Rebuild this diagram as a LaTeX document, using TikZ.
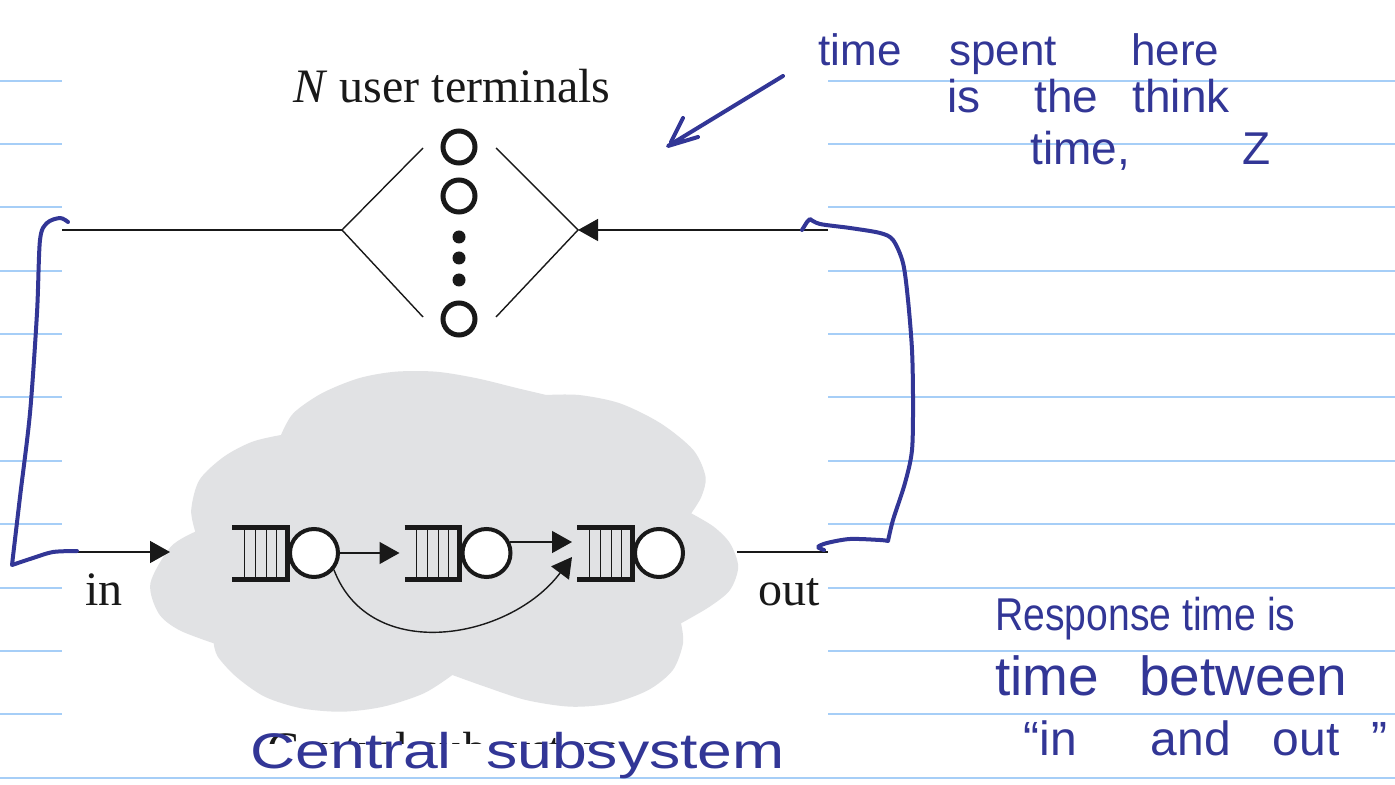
\documentclass[tikz,border=0pt]{standalone}
\usepackage{fontspec}
\setmainfont{Liberation Serif}
\newfontfamily\handfont{Liberation Sans}
\usepackage{graphicx}
\usetikzlibrary{arrows.meta}

\definecolor{ruleblue}{RGB}{166,206,247}
\definecolor{ink}{RGB}{50,54,150}
\definecolor{cloudgray}{RGB}{225,226,228}
\definecolor{printink}{RGB}{25,25,25}
\newcommand\fsz[1]{\fontsize{#1}{#1}\selectfont}

\tikzset{
  rule/.style={ruleblue, line width=1pt},
  wire/.style={printink, line width=0.7pt},
  flow/.style={wire, -{Triangle[length=10pt,width=11pt]}},
  terminal/.style={circle, draw=printink, line width=2.5pt, minimum size=16pt, inner sep=0pt, fill=white},
  ellipsisdot/.style={circle, fill=printink, minimum size=6.5pt, inner sep=0pt},
  server/.style={circle, draw=printink, fill=white, line width=2pt, minimum size=24pt, inner sep=0pt},
  bufbar/.style={printink, line width=2.5pt, line join=miter},
  slot/.style={printink, line width=0.5pt},
  printlabel/.style={text=printink, font=\fsz{24pt}, inner sep=0pt},
  pen/.style={ink, line width=2pt, line cap=round, line join=round},
  note/.style={text=ink, anchor=base west, inner sep=0pt},
  queue/.pic={
    \coordinate (-in) at (0,0);
    \draw[bufbar] (0,-25.5) -- (55,-25.5) -- (55,26) -- (0,26);
    \foreach \sx in {12,23,34,44} \draw[slot] (\sx,-25.5) -- (\sx,26);
    \node[server] (-srv) at (82,0) {};
  }
}

\begin{document}
\begin{tikzpicture}[x=0.5pt, y=-0.5pt]
\useasboundingbox (0,0) rectangle (1395,785);
\fill[white] (0,0) rectangle (1395,785);

% ruled notebook paper
\foreach \ry in {80.7,144,207.5,271,334,397.5,461,524,587.5,651,714} {
  \draw[rule] (0,\ry) -- (62,\ry);
  \draw[rule] (828,\ry) -- (1395,\ry);
}
\draw[rule] (0,777.5) -- (1395,777.5);

% central subsystem cloud
\fill[cloudgray]
  plot[smooth] coordinates {(195.3,531.7) (191.2,510) (199.4,480) (223.9,456.7) (252.4,441.7) (281,435)}
  -- plot[smooth] coordinates {(281,435) (293.3,413.3) (321.8,393.3) (358.6,378.3) (395.3,371.7) (436.1,371.7) (476.9,378.3) (517.8,388.3) (546.3,395)}
  -- plot[smooth] coordinates {(546.3,395) (579,395) (619.8,403.3) (660.6,423.3) (693.3,450) (705.5,476.7) (701.4,496.7) (691.2,513.3)}
  -- plot[smooth] coordinates {(691.2,513.3) (713.7,526.7) (730,543.3) (738.2,566.7) (730,590) (709.6,606.7) (681,623.3)}
  -- plot[smooth] coordinates {(681,623.3) (683,643.3) (672.9,670) (648.4,690) (611.6,703.3) (570.8,706.7) (525.9,700) (485.1,686.7) (452.4,675)}
  -- plot[smooth] coordinates {(452.4,675) (423.9,693.3) (383.1,706.7) (342.2,711.7) (301.4,708.3) (264.7,696.7) (236.1,676.7) (217.8,656.7) (213.7,643.3)}
  -- plot[smooth] coordinates {(213.7,643.3) (179,630) (158.6,613.3) (150.4,583.3) (170.8,546.7) (195.3,531.7)}
  -- cycle;

% terminals
\node[printlabel, anchor=base] (title) at (452,103) {\textit{N} user terminals};
\node[terminal] (t1) at (459,147) {};
\node[terminal] (t2) at (459,196) {};
\node[ellipsisdot] (d1) at (459,237) {};
\node[ellipsisdot] (d2) at (459,258) {};
\node[ellipsisdot] (d3) at (459,280) {};
\node[terminal] (tn) at (459,319) {};

\coordinate (fork) at (342,230);
\coordinate (merge) at (578,230);
\coordinate (fanUL) at (423,148);
\coordinate (fanLL) at (423,317);
\coordinate (fanUR) at (496,148);
\coordinate (fanLR) at (496,317);
\coordinate (loopL) at (62,230);
\coordinate (loopR) at (828,230);
\draw[wire] (loopL) -- (fork);
\draw[wire] (fanUL) -- (fork) -- (fanLL);
\draw[wire] (fanUR) -- (merge) -- (fanLR);
\draw[flow] (loopR) -- (merge);

% entry and exit of the subsystem
\coordinate (inL) at (62,552);
\coordinate (inTip) at (170,552);
\coordinate (outL) at (737,552);
\coordinate (outR) at (828,552);
\draw[flow] (inL) -- (inTip);
\draw[wire] (outL) -- (outR);
\node[printlabel, anchor=base west] (inlab) at (85,605) {in};
\node[printlabel, anchor=base west] (outlab) at (758,605) {out};

% queues
\pic (q1) at (232,553) {queue};
\pic (q2) at (404.5,553) {queue};
\pic (q3) at (577,553) {queue};
\draw[flow, shorten >=2.5pt] (q1-srv.east) -- (q2-in);
\draw[flow, shorten >=2.5pt] (q2-srv.25) -- (q2-srv.25 -| q3-in);
\draw[flow] (q1-srv.-40) .. controls +(36,95) and +(-62,83) .. ([xshift=-2.5pt,yshift=-2pt]q3-in);

% subsystem caption, cut off at the lower edge of the figure
\begin{scope}
  \clip (62,700) rectangle (828,743);
  \node[printlabel, anchor=base west] (sublab) at (267,765) {Central subsystem};
\end{scope}

% handwritten notes
\node[note, font=\handfont\fsz{22pt}] (n1) at (818,66) {time\hspace{24pt}spent\hspace{37pt}here};
\node[note, font=\handfont\fsz{23pt}] (n2) at (947,113) {is\hspace{27pt}the\hspace{17pt}think};
\node[note, font=\handfont\fsz{23pt}] (n3) at (1030,165) {time,\hspace{56pt}Z};
\node[note, font=\handfont\fsz{23pt}] (n4) at (995,630) {\scalebox{0.85}[1]{Response time is}};
\node[note, font=\handfont\fsz{27.5pt}] (n5) at (995,695) {time\hspace{20pt}between};
\node[note, font=\handfont\fsz{24pt}] (n6) at (1023,755) {“in\hspace{37pt}and\hspace{21pt}out\hspace{16pt}”};
\node[note, font=\handfont\fsz{25pt}] (n7) at (250,768) {\scalebox{1.25}[1]{Central\hspace{13.7pt}subsystem}};

% handwritten arrow and brackets
\draw[pen] (783,76) -- (668,146) -- (698,137);
\draw[pen] (683,118) -- (671,142);
\draw[pen] plot[smooth] coordinates {(68,222) (60,218) (47,223) (40,240) (37,313) (30,413) (20,497) (12,565)}
  -- plot[smooth] coordinates {(12,565) (33,558) (53,552) (77,551)};
\draw[pen] (802,230) -- (807,222)
  -- plot[smooth] coordinates {(810,219) (820,224) (850,228) (880,233) (893,240) (903,263) (908,300) (912,350) (913,400) (912,450) (905,483) (893,520) (888,541)}
  -- plot[smooth] coordinates {(888,541) (880,540) (850,539) (827,543) (818,547) (824,550)};
\end{tikzpicture}
\end{document}
